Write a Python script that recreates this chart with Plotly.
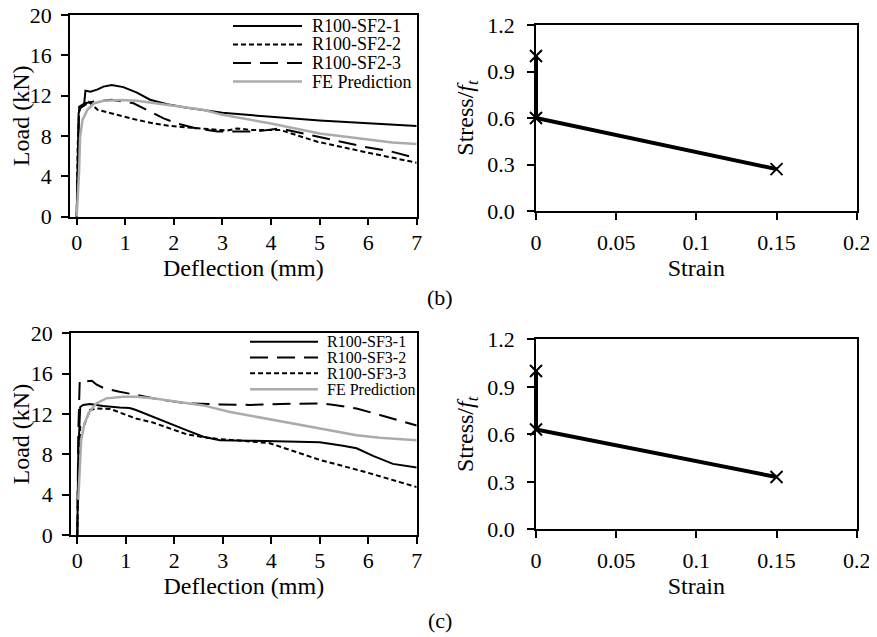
import plotly.graph_objects as go

W, H = 877, 637
OFF = 8  # the page body adds an 8px margin around the figure
FONT = "Liberation Serif, Times New Roman, serif"
GREY = "#ababab"

# ---- (b) load-deflection, SF2 ----
sf2_1_x = [0, 0.02, 0.04, 0.08, 0.15, 0.18, 0.28, 0.42, 0.55, 0.72, 0.96, 1.24, 1.51, 1.86, 2.27, 3.0, 3.6, 4.0, 5.0, 6.0, 7.0]
sf2_1_y = [0, 6, 10.3, 10.8, 11.0, 12.5, 12.4, 12.6, 12.9, 13.05, 12.85, 12.3, 11.6, 11.15, 10.8, 10.3, 10.05, 9.9, 9.55, 9.25, 9.0]
sf2_2_x = [0, 0.02, 0.05, 0.1, 0.18, 0.25, 0.43, 0.71, 0.96, 1.24, 1.58, 1.92, 2.27, 2.75, 3.1, 3.3, 3.6, 4.19, 4.94, 5.9, 7.0]
sf2_2_y = [0, 7, 10.6, 11.0, 11.1, 11.4, 10.6, 10.25, 9.9, 9.6, 9.25, 9.0, 8.85, 8.65, 8.55, 8.75, 8.6, 8.6, 7.45, 6.45, 5.35]
sf2_3_x = [0, 0.02, 0.05, 0.17, 0.33, 0.72, 1.17, 1.44, 1.79, 2.06, 2.47, 2.9, 3.1, 3.7, 4.19, 4.94, 5.9, 6.45, 7.0]
sf2_3_y = [0, 6, 10.9, 11.25, 11.4, 11.6, 11.25, 10.6, 9.75, 9.25, 8.75, 8.45, 8.45, 8.45, 8.75, 7.95, 6.95, 6.5, 5.8]
fe_b_x = [0, 0.03, 0.05, 0.07, 0.12, 0.22, 0.36, 0.56, 0.9, 1.24, 1.65, 2.13, 2.6, 3.0, 4.0, 5.0, 6.0, 6.5, 7.0]
fe_b_y = [0, 2.5, 4.6, 7.9, 9.6, 10.6, 11.25, 11.5, 11.58, 11.5, 11.25, 10.95, 10.6, 10.1, 9.25, 8.25, 7.6, 7.35, 7.2]

# ---- (c) load-deflection, SF3 ----
sf3_1_x = [0, 0.02, 0.06, 0.12, 0.26, 0.53, 0.87, 1.08, 1.21, 1.56, 1.9, 2.25, 2.6, 2.94, 3.56, 3.97, 5.0, 5.48, 5.76, 6.1, 6.51, 7.0]
sf3_1_y = [0, 8, 12.7, 12.9, 13.0, 12.8, 12.65, 12.6, 12.4, 11.7, 11.1, 10.4, 9.75, 9.4, 9.35, 9.3, 9.2, 8.85, 8.6, 7.85, 7.05, 6.7]
sf3_2_x = [0, 0.02, 0.05, 0.12, 0.3, 0.4, 0.53, 0.87, 1.21, 1.56, 1.9, 2.25, 2.94, 3.56, 4.2, 5.0, 5.3, 5.76, 6.24, 7.0]
sf3_2_y = [0, 10, 15.3, 15.2, 15.3, 14.9, 14.6, 14.2, 13.9, 13.55, 13.3, 13.05, 12.95, 12.9, 13.0, 13.05, 12.9, 12.55, 11.9, 10.85]
sf3_3_x = [0, 0.02, 0.06, 0.15, 0.26, 0.4, 0.68, 0.95, 1.21, 1.56, 1.9, 2.25, 2.6, 2.94, 3.4, 3.97, 5.0, 5.9, 7.0]
sf3_3_y = [0, 6, 10.7, 11.0, 12.4, 12.55, 12.5, 12.05, 11.55, 11.15, 10.6, 10.0, 9.7, 9.5, 9.35, 9.1, 7.45, 6.3, 4.75]
fe_c_x = [0.02, 0.03, 0.05, 0.08, 0.15, 0.25, 0.39, 0.6, 0.95, 1.21, 1.56, 1.9, 2.6, 3.15, 4.2, 5.0, 5.76, 6.24, 7.0]
fe_c_y = [3.5, 4.5, 7.1, 9.4, 11.1, 12.2, 13.05, 13.55, 13.7, 13.7, 13.55, 13.3, 12.85, 12.2, 11.25, 10.6, 9.9, 9.65, 9.4]

# ---- tension softening (stress/ft vs strain) ----
strain_b = [0, 0, 0.15]
stress_b = [1.0, 0.6, 0.27]
strain_c = [0, 0, 0.15]
stress_c = [1.0, 0.63, 0.33]

names_b = ["R100-SF2-1", "R100-SF2-2", "R100-SF2-3", "FE Prediction"]
names_c = ["R100-SF3-1", "R100-SF3-2", "R100-SF3-3", "FE Prediction"]

SOLID = dict(color="black", width=2)
SHORT = dict(color="black", width=2, dash="5px,3px")
LONG = dict(color="black", width=2, dash="18px,9px")
FE = dict(color=GREY, width=2.5)


def px(x):
    return (x - OFF) / W


def py(y):
    return 1 - (y - OFF) / H


fig = go.Figure()

# left panels
for xs, ys, ln, nm in [(sf2_1_x, sf2_1_y, SOLID, names_b[0]), (sf2_2_x, sf2_2_y, SHORT, names_b[1]),
                       (sf2_3_x, sf2_3_y, LONG, names_b[2]), (fe_b_x, fe_b_y, FE, names_b[3])]:
    fig.add_trace(go.Scatter(x=xs, y=ys, mode="lines", line=ln, name=nm, xaxis="x", yaxis="y"))
for xs, ys, ln, nm in [(sf3_1_x, sf3_1_y, SOLID, names_c[0]), (sf3_2_x, sf3_2_y, LONG, names_c[1]),
                       (sf3_3_x, sf3_3_y, SHORT, names_c[2]), (fe_c_x, fe_c_y, FE, names_c[3])]:
    fig.add_trace(go.Scatter(x=xs, y=ys, mode="lines", line=ln, name=nm, xaxis="x3", yaxis="y3"))

# right panels
mk = dict(symbol="x-thin-open", size=12, line=dict(color="black", width=2), color="black")
fig.add_trace(go.Scatter(x=strain_b, y=stress_b, mode="lines+markers", line=dict(color="black", width=4),
                         marker=mk, xaxis="x2", yaxis="y2", cliponaxis=False))
fig.add_trace(go.Scatter(x=strain_c, y=stress_c, mode="lines+markers", line=dict(color="black", width=4),
                         marker=mk, xaxis="x4", yaxis="y4", cliponaxis=False))

tickfont = dict(family=FONT, size=22, color="black")
titlefont = dict(family=FONT, size=24, color="black")
common = dict(showgrid=False, zeroline=False, showline=True, linecolor="black", linewidth=1.5,
              mirror=True, ticks="outside", ticklen=7, tickwidth=1.5, tickcolor="black",
              tickfont=tickfont, title_font=titlefont, automargin=False, ticklabeloverflow="allow")
xl = dict(common, ticklabelstandoff=-2)
xr = dict(common, ticklabelstandoff=4)
yl = dict(common, ticklabelstandoff=5)
yr = dict(common, ticklabelstandoff=8)

stress_title = "Stress/<i>f</i><sub><i>t</i></sub>"

fig.update_layout(
    width=W, height=H, showlegend=False,
    margin=dict(l=0, r=0, t=0, b=0, autoexpand=False),
    paper_bgcolor="white", plot_bgcolor="white",
    font=dict(family=FONT, color="black"),
    xaxis=dict(domain=[px(70), px(416.7)], anchor="y", range=[-0.138, 7], dtick=1,
               title=dict(text="Deflection (mm)", standoff=0), **xl),
    yaxis=dict(domain=[py(216.7), py(15)], anchor="x", range=[0, 20], dtick=4,
               title=dict(text="Load (kN)", standoff=0), **yl),
    xaxis2=dict(domain=[px(536), px(856.7)], anchor="y2", range=[0, 0.2], dtick=0.05,
                title=dict(text="Strain", standoff=0), **xr),
    yaxis2=dict(domain=[py(211), py(25)], anchor="x2", range=[0, 1.2], dtick=0.3, tickformat=".1f",
                title=dict(text=stress_title, standoff=7), **yr),
    xaxis3=dict(domain=[px(71), px(416.7)], anchor="y3", range=[-0.13, 7], dtick=1,
                title=dict(text="Deflection (mm)", standoff=0), **xl),
    yaxis3=dict(domain=[py(535), py(333.3)], anchor="x3", range=[0, 20], dtick=4,
                title=dict(text="Load (kN)", standoff=0), **yl),
    xaxis4=dict(domain=[px(536), px(856.7)], anchor="y4", range=[0, 0.2], dtick=0.05,
                title=dict(text="Strain", standoff=0), **xr),
    yaxis4=dict(domain=[py(529.3), py(339.3)], anchor="x4", range=[0, 1.2], dtick=0.3, tickformat=".1f",
                title=dict(text=stress_title, standoff=7), **yr),
)

# hand-placed legends (no frame, tight rows as in the original figure)
legend_b = dict(rows=[26, 44.5, 63, 81.5], x0=233, x1=302, tx=310, size=18,
                styles=[SOLID, SHORT, LONG, FE], names=names_b)
legend_c = dict(rows=[341.7, 357.5, 373.3, 389.3], x0=250, x1=318, tx=325, size=16,
                styles=[SOLID, LONG, SHORT, FE], names=names_c)
for lg in (legend_b, legend_c):
    for yy, st, nm in zip(lg["rows"], lg["styles"], lg["names"]):
        fig.add_shape(type="line", xref="paper", yref="paper", x0=px(lg["x0"]), x1=px(lg["x1"]),
                      y0=py(yy), y1=py(yy), line=st)
        fig.add_annotation(text=nm, xref="paper", yref="paper", x=px(lg["tx"]), y=py(yy),
                           xanchor="left", yanchor="middle", showarrow=False,
                           font=dict(family=FONT, size=lg["size"], color="black"))

# panel labels
fig.add_annotation(text="(b)", xref="paper", yref="paper", x=px(440), y=py(297), showarrow=False,
                   xanchor="center", yanchor="middle", font=dict(family=FONT, size=22, color="black"))
fig.add_annotation(text="(c)", xref="paper", yref="paper", x=px(440), y=py(620), showarrow=False,
                   xanchor="center", yanchor="middle", font=dict(family=FONT, size=22, color="black"))

fig.write_html("out.html")
